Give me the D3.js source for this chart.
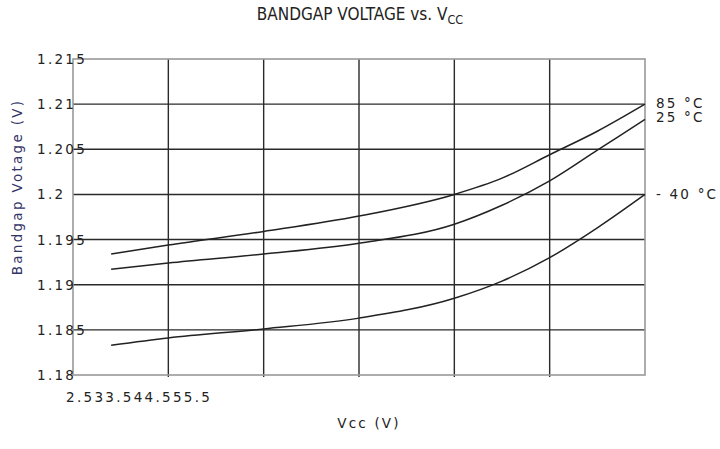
<!DOCTYPE html>
<html><head><meta charset="utf-8">
<script src="https://cdn.jsdelivr.net/npm/d3@7"></script>
<style>html,body{margin:0;padding:0;background:#fff;}</style>
</head><body>
<svg id="c" width="720" height="449"></svg>
<script>
const vcc = [2.7, 3.0, 3.5, 4.0, 4.5, 4.75, 5.0, 5.25, 5.5];
const v85 = [1.1934, 1.1944, 1.1959, 1.1976, 1.2000, 1.2018, 1.2044, 1.2070, 1.2100];
const v25 = [1.1917, 1.1924, 1.1934, 1.1946, 1.1967, 1.1988, 1.2015, 1.2049, 1.2083];
const vm40 = [1.1833, 1.1841, 1.1851, 1.1863, 1.1885, 1.1904, 1.1930, 1.1963, 1.2000];
const seriesLabels = ["85 \u00B0C", "25 \u00B0C", "- 40 \u00B0C"];
const xTicks = [2.5, 3, 3.5, 4, 4.5, 5, 5.5];
const yTicks = [1.18, 1.185, 1.19, 1.195, 1.2, 1.205, 1.21, 1.215];
const yTickLabels = ["1.18", "1.185", "1.19", "1.195", "1.2", "1.205", "1.21", "1.215"];

const svg = d3.select("#c");
const L = 73, R = 645, T = 59, B = 375;
const x = d3.scaleLinear().domain([2.5, 5.5]).range([L, R]);
const y = d3.scaleLinear().domain([1.18, 1.215]).range([B, T]);

const font = "'DejaVu Sans', Verdana, sans-serif";

// grid
const g = svg.append("g");
g.selectAll("line.h").data(yTicks.slice(1, -1)).join("line")
  .attr("x1", L).attr("x2", R).attr("y1", d => y(d)).attr("y2", d => y(d))
  .attr("stroke", "#2a2a2a").attr("stroke-width", 1.4);
g.selectAll("line.v").data(xTicks.slice(1, -1)).join("line")
  .attr("x1", d => x(d)).attr("x2", d => x(d)).attr("y1", T).attr("y2", B + 2)
  .attr("stroke", "#2a2a2a").attr("stroke-width", 1.4);
// frame
g.append("rect").attr("x", L).attr("y", T).attr("width", R - L).attr("height", B - T)
  .attr("fill", "none").attr("stroke", "#999").attr("stroke-width", 1.6);

// y tick labels (left aligned)
svg.append("g").selectAll("text").data(yTicks).join("text")
  .attr("x", 37).attr("y", d => y(d) + 5)
  .attr("font-family", font).attr("font-size", 13.5).attr("letter-spacing", 2.3)
  .attr("fill", "#222").text((d, i) => yTickLabels[i]);

// x tick labels (crammed inline)
const xt = svg.append("text").attr("x", 66).attr("y", 402)
  .attr("font-family", font).attr("font-size", 13.5).attr("letter-spacing", 2.3).attr("fill", "#222");
xt.selectAll("tspan").data(xTicks).join("tspan").text(d => d3.format("")(d));

// curves
const line = d3.line().x(d => x(d[0])).y(d => y(d[1])).curve(d3.curveMonotoneX);
[v85, v25, vm40].forEach(vals => {
  svg.append("path").datum(vcc.map((v, i) => [v, vals[i]]))
    .attr("d", line).attr("fill", "none").attr("stroke", "#222").attr("stroke-width", 1.5);
});

// series labels
const labY = [v85[v85.length - 1], v25[v25.length - 1], vm40[vm40.length - 1]];
const labDy = [-1, -2, 0];
svg.append("g").selectAll("text").data(seriesLabels).join("text")
  .attr("x", 656).attr("y", (d, i) => y(labY[i]) + 5 + labDy[i])
  .attr("font-family", font).attr("font-size", 13.5).attr("letter-spacing", 2.2)
  .attr("fill", "#222").text(d => d);

// title
const title = svg.append("text").attr("x", 360).attr("y", 20).attr("text-anchor", "middle")
  .attr("font-family", "'Liberation Sans Narrow', 'DejaVu Sans Condensed', 'Liberation Sans', sans-serif")
  .attr("font-stretch", "condensed").attr("font-size", 17).attr("fill", "#222");
title.append("tspan").text("BANDGAP VOLTAGE vs. V");
title.append("tspan").attr("font-size", 12.5).attr("dy", 4).text("CC");

// axis titles
svg.append("text").attr("x", 369).attr("y", 428).attr("text-anchor", "middle")
  .attr("font-family", font).attr("font-size", 13.5).attr("letter-spacing", 2.2)
  .attr("fill", "#222").text("Vcc (V)");
svg.append("text").attr("transform", "translate(22,187) rotate(-90)").attr("text-anchor", "middle")
  .attr("font-family", font).attr("font-size", 13.5).attr("letter-spacing", 2.3)
  .attr("fill", "#333366").text("Bandgap Votage (V)");
</script>
</body></html>
